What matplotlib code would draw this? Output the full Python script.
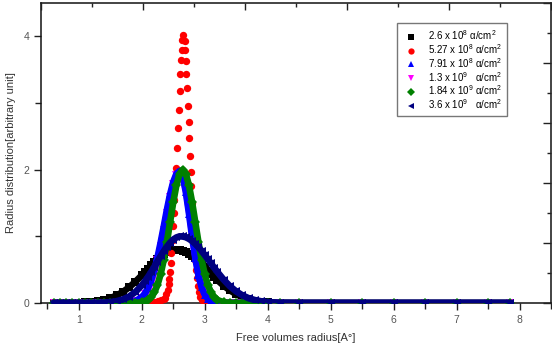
import matplotlib
matplotlib.use("Agg")
import matplotlib.pyplot as plt
from matplotlib.lines import Line2D
from matplotlib.ticker import MultipleLocator

plt.rcParams['font.family'] = ['Liberation Sans', 'DejaVu Sans']
plt.rcParams['mathtext.fontset'] = 'custom'
plt.rcParams['mathtext.rm'] = 'Liberation Sans'
plt.rcParams['mathtext.it'] = 'Liberation Sans:italic'

# radius grid shared by the broad curves [A]
radius = [0.6, 0.7, 0.8, 0.9, 1.0, 1.1, 1.2, 1.3, 1.4, 1.5, 1.6, 1.7, 1.8, 1.9,
          2.0, 2.05, 2.1, 2.15, 2.2, 2.25, 2.3, 2.35, 2.4, 2.45, 2.5, 2.55, 2.6,
          2.65, 2.7, 2.75, 2.8, 2.85, 2.9, 2.95, 3.0, 3.05, 3.1, 3.15, 3.2,
          3.3, 3.4, 3.5, 3.6, 3.7, 3.8, 3.9, 4.0, 4.2, 4.5,
          5.0, 5.5, 6.0, 6.5, 7.0, 7.5, 7.85]

dist_26e8 = [0, 0, 0, 0, 0.004, 0.008, 0.015, 0.027, 0.045, 0.073, 0.113, 0.166, 0.236, 0.32,
             0.415, 0.466, 0.515, 0.566, 0.613, 0.658, 0.698, 0.733, 0.762, 0.783, 0.796, 0.8, 0.796,
             0.784, 0.765, 0.738, 0.706, 0.668, 0.626, 0.581, 0.534, 0.485, 0.437, 0.39, 0.344,
             0.26, 0.189, 0.132, 0.088, 0.057, 0.035, 0.021, 0.012, 0.003, 0,
             0, 0, 0, 0, 0, 0, 0]

dist_791e8 = [0, 0, 0, 0, 0, 0, 0, 0, 0, 0, 0, 0.002, 0.008, 0.028,
              0.087, 0.143, 0.226, 0.341, 0.494, 0.683, 0.907, 1.15, 1.4, 1.63, 1.815, 1.937, 1.98,
              1.897, 1.665, 1.342, 0.992, 0.673, 0.417, 0.238, 0.124, 0.06, 0.026, 0.011, 0.004,
              0, 0, 0, 0, 0, 0, 0, 0, 0, 0,
              0, 0, 0, 0, 0, 0, 0]

dist_13e9 = [0, 0, 0, 0, 0, 0, 0, 0, 0, 0, 0, 0.001, 0.006, 0.024,
             0.077, 0.128, 0.205, 0.315, 0.462, 0.645, 0.862, 1.1, 1.35, 1.585, 1.78, 1.915, 1.95,
             1.9, 1.7, 1.39, 1.04, 0.715, 0.45, 0.26, 0.138, 0.068, 0.03, 0.013, 0.005,
             0, 0, 0, 0, 0, 0, 0, 0, 0, 0,
             0, 0, 0, 0, 0, 0, 0]

dist_184e9 = [0, 0, 0, 0, 0, 0, 0, 0, 0, 0, 0, 0, 0, 0.002,
              0.01, 0.022, 0.046, 0.088, 0.159, 0.271, 0.433, 0.649, 0.916, 1.213, 1.51, 1.765, 1.938,
              2.0, 1.938, 1.765, 1.51, 1.213, 0.916, 0.649, 0.433, 0.271, 0.159, 0.088, 0.046,
              0.01, 0.002, 0, 0, 0, 0, 0, 0, 0, 0,
              0, 0, 0, 0, 0, 0, 0]

dist_36e9 = [0, 0, 0, 0, 0, 0, 0.001, 0.002, 0.006, 0.013, 0.027, 0.053, 0.097, 0.166,
             0.264, 0.325, 0.392, 0.465, 0.543, 0.622, 0.701, 0.777, 0.846, 0.905, 0.951, 0.983, 0.999,
             0.998, 0.986, 0.962, 0.93, 0.887, 0.837, 0.782, 0.721, 0.658, 0.594, 0.529, 0.467,
             0.351, 0.252, 0.174, 0.114, 0.071, 0.043, 0.025, 0.013, 0.003, 0,
             0, 0, 0, 0, 0, 0, 0]

# the narrow 5.27e8 curve is sampled on its own points
radius_527e8 = [1.95, 2.05, 2.13, 2.2, 2.26, 2.31, 2.35, 2.37, 2.39, 2.41, 2.43, 2.44, 2.45,
                2.46, 2.47, 2.49, 2.5, 2.51, 2.52, 2.53, 2.545, 2.565, 2.575, 2.585, 2.6,
                2.61, 2.62, 2.635, 2.645, 2.655,
                2.68, 2.69, 2.7, 2.71, 2.72, 2.73, 2.745, 2.755, 2.77, 2.78, 2.79, 2.8,
                2.815, 2.825, 2.835, 2.845, 2.86, 2.875, 2.89, 2.91, 2.93, 2.96, 3.0,
                3.06, 3.15]
dist_527e8 = [0, 0, 0.01, 0.02, 0.03, 0.04, 0.06, 0.08, 0.13, 0.2, 0.28, 0.36, 0.47,
              0.6, 0.75, 0.95, 1.15, 1.35, 1.55, 1.78, 2.03, 2.32, 2.62, 2.9, 3.18,
              3.43, 3.64, 3.8, 3.95, 4.02,
              3.93, 3.79, 3.63, 3.43, 3.22, 2.96, 2.72, 2.47, 2.21, 1.97, 1.75, 1.5,
              1.25, 1.02, 0.83, 0.65, 0.5, 0.37, 0.26, 0.16, 0.09, 0.04, 0.02,
              0.01, 0]

labels = ['2.6 x 10$^{8}$ α/cm$^{2}$',
          '5.27 x 10$^{8}$ α/cm$^{2}$',
          '7.91 x 10$^{8}$ α/cm$^{2}$',
          '1.3 x 10$^{9}$   α/cm$^{2}$',
          '1.84 x 10$^{9}$ α/cm$^{2}$',
          '3.6 x 10$^{9}$   α/cm$^{2}$']
colors = ['#000000', '#ff0000', '#0000ff', '#ff00ff', '#008000', '#000080']
markers = ['s', 'o', '^', 'v', 'D', '<']

fig = plt.figure(figsize=(5.52, 3.49), dpi=100)
ax = fig.add_axes([41 / 552, 46 / 349, 510 / 552, 300 / 349])

series = [(radius, dist_26e8, 0), (radius_527e8, dist_527e8, 1),
          (radius, dist_13e9, 3), (radius, dist_791e8, 2),
          (radius, dist_184e9, 4), (radius, dist_36e9, 5)]

for z, (xs, ys, i) in enumerate(series):
    if i == 1:
        ax.plot(xs, ys, linestyle='none', marker='o', ms=5.3, color=colors[i],
                markeredgewidth=0, zorder=2 + z)
        continue
    ax.plot(xs, ys, color=colors[i], lw=4.8, solid_capstyle='round', zorder=2 + z)
    ax.plot(xs, ys, linestyle='none', marker=markers[i], ms=5.8 if markers[i] != 'D' else 4.8,
            color=colors[i], markeredgewidth=0, zorder=2 + z)

ax.set_xlim(0.4, 8.5)
ax.set_ylim(0, 4.5)
ax.xaxis.set_major_locator(MultipleLocator(1))
ax.xaxis.set_minor_locator(MultipleLocator(0.5))
ax.yaxis.set_major_locator(MultipleLocator(2))
ax.yaxis.set_minor_locator(MultipleLocator(1))
ax.tick_params(which='both', direction='out', colors='#222222', labelcolor='#555555',
               labelsize=7.5, width=1)
ax.tick_params(which='major', length=5)
ax.tick_params(which='minor', length=4)
for sp in ax.spines.values():
    sp.set_linewidth(1.1)
    sp.set_color('#111111')

ax.set_xlabel('Free volumes radius[A°]', fontsize=8, color='#333333', labelpad=6)
ax.set_ylabel('Radius distribution[arbitrary unit]', fontsize=8, color='#333333', labelpad=5)

# extra inward ticks on the top and right frame
top = ax.twiny()
top.set_xlim(0, 5)
top.xaxis.set_major_locator(MultipleLocator(1))
top.xaxis.set_minor_locator(MultipleLocator(0.5))
top.tick_params(axis='x', which='both', direction='in', labeltop=False, width=1, colors='#222222')
top.tick_params(axis='x', which='major', length=5)
top.tick_params(axis='x', which='minor', length=3)
right = ax.twinx()
right.set_ylim(0, 5)
right.yaxis.set_major_locator(MultipleLocator(1))
right.yaxis.set_minor_locator(MultipleLocator(0.5))
right.tick_params(axis='y', which='both', direction='in', labelright=False, width=1, colors='#222222')
right.tick_params(axis='y', which='major', length=6)
right.tick_params(axis='y', which='minor', length=3)
for a in (top, right):
    for sp in a.spines.values():
        sp.set_visible(False)

handles = [Line2D([], [], linestyle='none', marker=markers[i], color=colors[i],
                  ms=4.5 if markers[i] != 'D' else 4, markeredgewidth=0)
           for i in range(6)]
leg = fig.legend(handles, labels, loc='upper left', bbox_to_anchor=(397 / 552, 1 - 23 / 349),
                 fontsize=7, frameon=True, fancybox=False, borderpad=0.55,
                 labelspacing=0.0, handlelength=1.7, handletextpad=0.9, borderaxespad=0)
leg.get_frame().set_edgecolor('#555555')
leg.get_frame().set_linewidth(1)

fig.savefig('out.png', dpi=100)
